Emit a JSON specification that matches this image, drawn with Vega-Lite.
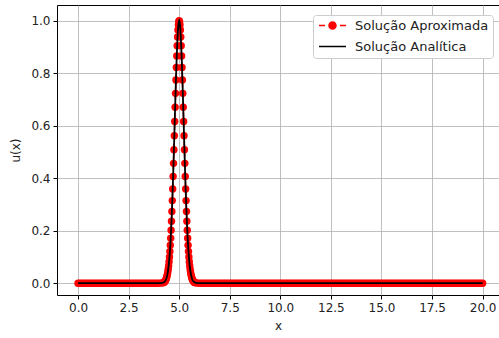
{
 "$schema": "https://vega.github.io/schema/vega-lite/v6.json",
 "width": 442, "height": 290,
 "autosize": "none",
 "padding": {"left": 57, "top": 5, "right": 0, "bottom": 43},
 "background": "white",
 "config": {
  "view": {"stroke": "#000", "strokeWidth": 1},
  "axis": {"labelFont": "DejaVu Sans", "labelFontSize": 12, "labelColor": "#222", "titleFont": "DejaVu Sans", "titleFontSize": 12, "titleFontWeight": "normal", "titleColor": "#222", "domain": false, "tickColor": "#000", "tickSize": 4, "tickWidth": 1, "labelPadding": 3, "grid": true, "gridColor": "#b0b0b0", "gridWidth": 0.8}
 },
 "data": {"values": [
  {"x":0.0,"u":0},{"x":0.1,"u":0},{"x":0.2,"u":0},{"x":0.3,"u":0},{"x":0.4,"u":0},{"x":0.5,"u":0},{"x":0.6,"u":0},{"x":0.7,"u":0},{"x":0.8,"u":0},{"x":0.9,"u":0},
  {"x":1.0,"u":0},{"x":1.1,"u":0},{"x":1.2,"u":0},{"x":1.3,"u":0},{"x":1.4,"u":0},{"x":1.5,"u":0},{"x":1.6,"u":0},{"x":1.7,"u":0},{"x":1.8,"u":0},{"x":1.9,"u":0},
  {"x":2.0,"u":0},{"x":2.1,"u":0},{"x":2.2,"u":0},{"x":2.3,"u":0},{"x":2.4,"u":0},{"x":2.5,"u":0},{"x":2.6,"u":0},{"x":2.7,"u":0},{"x":2.8,"u":0},{"x":2.9,"u":0},
  {"x":3.0,"u":0},{"x":3.1,"u":0},{"x":3.2,"u":0},{"x":3.3,"u":0},{"x":3.4,"u":0},{"x":3.5,"u":0},{"x":3.6,"u":0},{"x":3.7,"u":0},{"x":3.8,"u":0},{"x":3.9,"u":0},
  {"x":4.0,"u":0.0002},{"x":4.1,"u":0.0003},
  {"x":4.20,"u":0.0017},{"x":4.22,"u":0.0023},{"x":4.24,"u":0.0031},{"x":4.26,"u":0.0042},{"x":4.28,"u":0.0056},{"x":4.30,"u":0.0074},{"x":4.32,"u":0.0098},{"x":4.34,"u":0.0128},{"x":4.36,"u":0.0166},{"x":4.38,"u":0.0214},
  {"x":4.40,"u":0.0273},{"x":4.42,"u":0.0346},{"x":4.44,"u":0.0434},{"x":4.46,"u":0.0541},{"x":4.48,"u":0.0669},{"x":4.50,"u":0.0821},{"x":4.52,"u":0.0999},{"x":4.54,"u":0.1205},{"x":4.56,"u":0.1443},{"x":4.58,"u":0.1713},
  {"x":4.60,"u":0.2019},{"x":4.62,"u":0.2360},{"x":4.64,"u":0.2736},{"x":4.66,"u":0.3147},{"x":4.68,"u":0.3592},{"x":4.70,"u":0.4066},{"x":4.72,"u":0.4566},{"x":4.74,"u":0.5086},{"x":4.76,"u":0.5621},{"x":4.78,"u":0.6163},
  {"x":4.80,"u":0.6703},{"x":4.82,"u":0.7233},{"x":4.84,"u":0.7741},{"x":4.86,"u":0.8220},{"x":4.88,"u":0.8659},{"x":4.90,"u":0.9048},{"x":4.92,"u":0.9380},{"x":4.94,"u":0.9646},{"x":4.96,"u":0.9841},{"x":4.98,"u":0.9960},
  {"x":5.00,"u":1.0},
  {"x":5.02,"u":0.9960},{"x":5.04,"u":0.9841},{"x":5.06,"u":0.9646},{"x":5.08,"u":0.9380},{"x":5.10,"u":0.9048},{"x":5.12,"u":0.8659},{"x":5.14,"u":0.8220},{"x":5.16,"u":0.7741},{"x":5.18,"u":0.7233},{"x":5.20,"u":0.6703},
  {"x":5.22,"u":0.6163},{"x":5.24,"u":0.5621},{"x":5.26,"u":0.5086},{"x":5.28,"u":0.4566},{"x":5.30,"u":0.4066},{"x":5.32,"u":0.3592},{"x":5.34,"u":0.3147},{"x":5.36,"u":0.2736},{"x":5.38,"u":0.2360},{"x":5.40,"u":0.2019},
  {"x":5.42,"u":0.1713},{"x":5.44,"u":0.1443},{"x":5.46,"u":0.1205},{"x":5.48,"u":0.0999},{"x":5.50,"u":0.0821},{"x":5.52,"u":0.0669},{"x":5.54,"u":0.0541},{"x":5.56,"u":0.0434},{"x":5.58,"u":0.0346},{"x":5.60,"u":0.0273},
  {"x":5.62,"u":0.0214},{"x":5.64,"u":0.0166},{"x":5.66,"u":0.0128},{"x":5.68,"u":0.0098},{"x":5.70,"u":0.0074},{"x":5.72,"u":0.0056},{"x":5.74,"u":0.0042},{"x":5.76,"u":0.0031},{"x":5.78,"u":0.0023},{"x":5.80,"u":0.0017},
  {"x":5.9,"u":0.0003},{"x":6.0,"u":0.0002},{"x":6.1,"u":0},{"x":6.2,"u":0},{"x":6.3,"u":0},{"x":6.4,"u":0},{"x":6.5,"u":0},{"x":6.6,"u":0},{"x":6.7,"u":0},{"x":6.8,"u":0},{"x":6.9,"u":0},
  {"x":7.0,"u":0},{"x":7.1,"u":0},{"x":7.2,"u":0},{"x":7.3,"u":0},{"x":7.4,"u":0},{"x":7.5,"u":0},{"x":7.6,"u":0},{"x":7.7,"u":0},{"x":7.8,"u":0},{"x":7.9,"u":0},
  {"x":8.0,"u":0},{"x":8.1,"u":0},{"x":8.2,"u":0},{"x":8.3,"u":0},{"x":8.4,"u":0},{"x":8.5,"u":0},{"x":8.6,"u":0},{"x":8.7,"u":0},{"x":8.8,"u":0},{"x":8.9,"u":0},
  {"x":9.0,"u":0},{"x":9.1,"u":0},{"x":9.2,"u":0},{"x":9.3,"u":0},{"x":9.4,"u":0},{"x":9.5,"u":0},{"x":9.6,"u":0},{"x":9.7,"u":0},{"x":9.8,"u":0},{"x":9.9,"u":0},
  {"x":10.0,"u":0},{"x":10.1,"u":0},{"x":10.2,"u":0},{"x":10.3,"u":0},{"x":10.4,"u":0},{"x":10.5,"u":0},{"x":10.6,"u":0},{"x":10.7,"u":0},{"x":10.8,"u":0},{"x":10.9,"u":0},
  {"x":11.0,"u":0},{"x":11.1,"u":0},{"x":11.2,"u":0},{"x":11.3,"u":0},{"x":11.4,"u":0},{"x":11.5,"u":0},{"x":11.6,"u":0},{"x":11.7,"u":0},{"x":11.8,"u":0},{"x":11.9,"u":0},
  {"x":12.0,"u":0},{"x":12.1,"u":0},{"x":12.2,"u":0},{"x":12.3,"u":0},{"x":12.4,"u":0},{"x":12.5,"u":0},{"x":12.6,"u":0},{"x":12.7,"u":0},{"x":12.8,"u":0},{"x":12.9,"u":0},
  {"x":13.0,"u":0},{"x":13.1,"u":0},{"x":13.2,"u":0},{"x":13.3,"u":0},{"x":13.4,"u":0},{"x":13.5,"u":0},{"x":13.6,"u":0},{"x":13.7,"u":0},{"x":13.8,"u":0},{"x":13.9,"u":0},
  {"x":14.0,"u":0},{"x":14.1,"u":0},{"x":14.2,"u":0},{"x":14.3,"u":0},{"x":14.4,"u":0},{"x":14.5,"u":0},{"x":14.6,"u":0},{"x":14.7,"u":0},{"x":14.8,"u":0},{"x":14.9,"u":0},
  {"x":15.0,"u":0},{"x":15.1,"u":0},{"x":15.2,"u":0},{"x":15.3,"u":0},{"x":15.4,"u":0},{"x":15.5,"u":0},{"x":15.6,"u":0},{"x":15.7,"u":0},{"x":15.8,"u":0},{"x":15.9,"u":0},
  {"x":16.0,"u":0},{"x":16.1,"u":0},{"x":16.2,"u":0},{"x":16.3,"u":0},{"x":16.4,"u":0},{"x":16.5,"u":0},{"x":16.6,"u":0},{"x":16.7,"u":0},{"x":16.8,"u":0},{"x":16.9,"u":0},
  {"x":17.0,"u":0},{"x":17.1,"u":0},{"x":17.2,"u":0},{"x":17.3,"u":0},{"x":17.4,"u":0},{"x":17.5,"u":0},{"x":17.6,"u":0},{"x":17.7,"u":0},{"x":17.8,"u":0},{"x":17.9,"u":0},
  {"x":18.0,"u":0},{"x":18.1,"u":0},{"x":18.2,"u":0},{"x":18.3,"u":0},{"x":18.4,"u":0},{"x":18.5,"u":0},{"x":18.6,"u":0},{"x":18.7,"u":0},{"x":18.8,"u":0},{"x":18.9,"u":0},
  {"x":19.0,"u":0},{"x":19.1,"u":0},{"x":19.2,"u":0},{"x":19.3,"u":0},{"x":19.4,"u":0},{"x":19.5,"u":0},{"x":19.6,"u":0},{"x":19.7,"u":0},{"x":19.8,"u":0},{"x":19.9,"u":0},
  {"x":20.0,"u":0}
 ]},
 "encoding": {
  "x": {"field": "x", "type": "quantitative", "scale": {"domain": [-1.04, 20.81], "nice": false, "zero": false},
        "axis": {"values": [0, 2.5, 5, 7.5, 10, 12.5, 15, 17.5, 20], "format": ".1f", "title": "x", "titlePadding": 7}},
  "y": {"field": "u", "type": "quantitative", "scale": {"domain": [-0.045, 1.06], "nice": false, "zero": false},
        "axis": {"values": [0, 0.2, 0.4, 0.6, 0.8, 1.0], "format": ".1f", "title": "u(x)", "titlePadding": 8}}
 },
 "layer": [
  {"mark": {"type": "line", "strokeWidth": 1.5, "strokeDash": [6, 4]},
   "encoding": {"color": {"datum": "Solução Aproximada", "type": "nominal",
     "scale": {"domain": ["Solução Aproximada", "Solução Analítica"], "range": ["#ff0000", "#000000"]},
     "legend": {"title": null, "orient": "none", "legendX": 256, "legendY": 10,
       "fillColor": "white", "strokeColor": "#cccccc", "cornerRadius": 3, "padding": 4,
       "labelFont": "DejaVu Sans", "labelFontSize": 13, "labelColor": "#222", "labelOffset": 16,
       "rowPadding": 7, "symbolSize": 100, "symbolOffset": 9, "symbolStrokeWidth": 1.5,
       "encode": {"symbols": {"update": {
         "shape": {"signal": "datum.value === 'Solução Aproximada' ? 'M-2.7,0H-1.5M1.5,0H2.7M0.7,0A0.7,0.7,0,1,1,-0.7,0A0.7,0.7,0,1,1,0.7,0' : 'M-2.7,0H2.7'"},
         "stroke": {"scale": "color", "field": "value"},
         "fill": {"scale": "color", "field": "value"},
         "strokeWidth": {"value": 1.5},
         "opacity": {"value": 1}}}}}}}},
  {"mark": {"type": "point", "filled": true, "size": 55, "opacity": 1},
   "encoding": {"color": {"datum": "Solução Aproximada", "type": "nominal"}}},
  {"mark": {"type": "line", "strokeWidth": 1.8},
   "encoding": {"color": {"datum": "Solução Analítica", "type": "nominal"}}}
 ]
}
